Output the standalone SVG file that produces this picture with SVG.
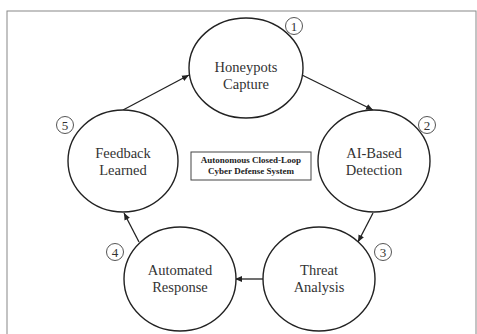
<svg xmlns="http://www.w3.org/2000/svg" width="477" height="334" viewBox="0 0 477 334">
<defs>
<marker id="ah" markerWidth="8" markerHeight="8" refX="7" refY="4" orient="auto" markerUnits="userSpaceOnUse">
<path d="M0,1 L7,4 L0,7 Z" fill="#222"/>
</marker>
<style>
.node{fill:#fff;stroke:#222;stroke-width:1.4}
.lbl{font-family:"Liberation Serif","Times New Roman",serif;font-size:14.5px;fill:#333;text-anchor:middle}
.num{fill:#fff;stroke:#555;stroke-width:1}
.numt{font-family:"Liberation Serif","Times New Roman",serif;font-size:13px;fill:#333;text-anchor:middle}
.conn{stroke:#222;stroke-width:1.3;fill:none;marker-end:url(#ah)}
.ttl{font-family:"Liberation Serif","Times New Roman",serif;font-size:9px;font-weight:bold;fill:#222;text-anchor:middle}
</style>
</defs>
<rect x="0" y="0" width="477" height="334" fill="#fff"/>
<rect x="7" y="11" width="469" height="330" fill="none" stroke="#888" stroke-width="1"/>
<g id="connectors">
<line class="conn" x1="123" y1="110" x2="189" y2="75"/>
<line class="conn" x1="302" y1="75" x2="373" y2="110"/>
<line class="conn" x1="373" y1="213" x2="358" y2="242"/>
<line class="conn" x1="263" y1="279" x2="235" y2="279"/>
<line class="conn" x1="139" y1="242" x2="124" y2="213"/>
</g>
<g id="n1">
<ellipse class="node" cx="246" cy="68" rx="57" ry="50"/>
<text class="lbl" x="246" y="71.5">Honeypots</text>
<text class="lbl" x="246" y="88.5">Capture</text>
<circle class="num" cx="294" cy="26" r="8.5"/>
<text class="numt" x="294" y="30.5">1</text>
</g>
<g id="n2">
<ellipse class="node" cx="374" cy="161" rx="56" ry="51"/>
<text class="lbl" x="374" y="158">AI-Based</text>
<text class="lbl" x="374" y="175">Detection</text>
<circle class="num" cx="427" cy="125" r="8.5"/>
<text class="numt" x="427" y="129.5">2</text>
</g>
<g id="n3">
<ellipse class="node" cx="319" cy="279" rx="56" ry="52"/>
<text class="lbl" x="319" y="275">Threat</text>
<text class="lbl" x="319" y="292">Analysis</text>
<circle class="num" cx="383" cy="252" r="8.5"/>
<text class="numt" x="383" y="256.5">3</text>
</g>
<g id="n4">
<ellipse class="node" cx="180" cy="279" rx="56" ry="52"/>
<text class="lbl" x="180" y="275">Automated</text>
<text class="lbl" x="180" y="292">Response</text>
<circle class="num" cx="115" cy="252" r="8.5"/>
<text class="numt" x="115" y="256.5">4</text>
</g>
<g id="n5">
<ellipse class="node" cx="123" cy="161" rx="55" ry="51"/>
<text class="lbl" x="123" y="158">Feedback</text>
<text class="lbl" x="123" y="175">Learned</text>
<circle class="num" cx="65" cy="125" r="8.5"/>
<text class="numt" x="65" y="129.5">5</text>
</g>
<g id="title">
<rect x="191" y="152" width="120" height="28" fill="#fff" stroke="#444" stroke-width="1"/>
<text class="ttl" x="251" y="162.5">Autonomous Closed-Loop</text>
<text class="ttl" x="251" y="173.5">Cyber Defense System</text>
</g>
</svg>
